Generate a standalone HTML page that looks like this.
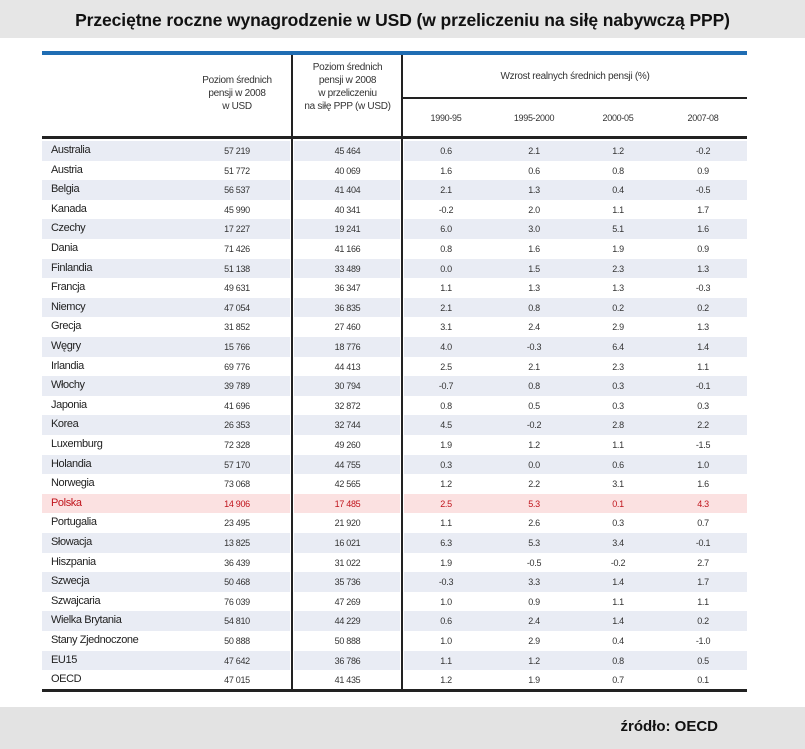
<!DOCTYPE html>
<html><head><meta charset="utf-8">
<style>
body{margin:0;width:805px;height:749px;background:#fff;position:relative;overflow:hidden;font-family:"Liberation Sans",Arial,sans-serif;}
.abs{position:absolute;}
.hd{font-size:10px;color:#333;text-align:center;line-height:13px;letter-spacing:-0.3px;}
.cell{position:absolute;font-size:9px;color:#333;text-align:center;letter-spacing:-0.3px;}
.name{position:absolute;font-size:11px;color:#222;left:51px;letter-spacing:-0.4px;}
</style></head><body>
<div class="abs" style="left:0;top:0;width:805px;height:38px;background:#e6e6e6;"></div>
<div class="abs" style="left:0;top:10px;width:805px;text-align:center;font-size:17.5px;font-weight:bold;color:#111;letter-spacing:-0.1px;">Przeciętne roczne wynagrodzenie w USD (w przeliczeniu na siłę nabywczą PPP)</div>
<div class="abs" style="left:42px;top:51px;width:705px;height:4px;background:#1f6db3;"></div>
<div id="rows"></div>
<div class="abs hd" style="left:187px;top:74px;width:100px;">Poziom średnich<br>pensji w 2008<br>w USD</div>
<div class="abs hd" style="left:295px;top:61px;width:105px;">Poziom średnich<br>pensji w 2008<br>w przeliczeniu<br>na siłę PPP (w USD)</div>
<div class="abs hd" style="left:403px;top:70px;width:344px;">Wzrost realnych średnich pensji (%)</div>
<div class="abs" style="left:402px;top:97px;width:345px;height:2px;background:#222;"></div>
<div class="abs" style="left:42px;top:136px;width:705px;height:3px;background:#222;"></div>
<div class="abs" style="left:42px;top:689px;width:705px;height:3px;background:#222;"></div>
<div class="abs" style="left:291px;top:55px;width:2px;height:635px;background:#222;"></div>
<div class="abs" style="left:401px;top:55px;width:2px;height:635px;background:#222;"></div>
<div class="abs" style="left:0;top:707px;width:805px;height:42px;background:#e3e3e3;"></div>
<div class="abs" style="right:87px;top:718px;font-size:15px;font-weight:bold;color:#111;">źródło: OECD</div>
<script>
const periods=["1990-95","1995-2000","2000-05","2007-08"];
const countries=["Australia","Austria","Belgia","Kanada","Czechy","Dania","Finlandia","Francja","Niemcy","Grecja","Węgry","Irlandia","Włochy","Japonia","Korea","Luxemburg","Holandia","Norwegia","Polska","Portugalia","Słowacja","Hiszpania","Szwecja","Szwajcaria","Wielka Brytania","Stany Zjednoczone","EU15","OECD"];
const usd=["57 219","51 772","56 537","45 990","17 227","71 426","51 138","49 631","47 054","31 852","15 766","69 776","39 789","41 696","26 353","72 328","57 170","73 068","14 906","23 495","13 825","36 439","50 468","76 039","54 810","50 888","47 642","47 015"];
const ppp=["45 464","40 069","41 404","40 341","19 241","41 166","33 489","36 347","36 835","27 460","18 776","44 413","30 794","32 872","32 744","49 260","44 755","42 565","17 485","21 920","16 021","31 022","35 736","47 269","44 229","50 888","36 786","41 435"];
const g1=["0.6","1.6","2.1","-0.2","6.0","0.8","0.0","1.1","2.1","3.1","4.0","2.5","-0.7","0.8","4.5","1.9","0.3","1.2","2.5","1.1","6.3","1.9","-0.3","1.0","0.6","1.0","1.1","1.2"];
const g2=["2.1","0.6","1.3","2.0","3.0","1.6","1.5","1.3","0.8","2.4","-0.3","2.1","0.8","0.5","-0.2","1.2","0.0","2.2","5.3","2.6","5.3","-0.5","3.3","0.9","2.4","2.9","1.2","1.9"];
const g3=["1.2","0.8","0.4","1.1","5.1","1.9","2.3","1.3","0.2","2.9","6.4","2.3","0.3","0.3","2.8","1.1","0.6","3.1","0.1","0.3","3.4","-0.2","1.4","1.1","1.4","0.4","0.8","0.7"];
const g4=["-0.2","0.9","-0.5","1.7","1.6","0.9","1.3","-0.3","0.2","1.3","1.4","1.1","-0.1","0.3","2.2","-1.5","1.0","1.6","4.3","0.7","-0.1","2.7","1.7","1.1","0.2","-1.0","0.5","0.1"];
const root=document.getElementById('rows');
const top0=141,rh=19.6;
const cols=[[187,100,usd],[295,105,ppp],[404,84,g1],[488,92,g2],[574,88,g3],[660,86,g4]];
const pc=[446,534,618,703];
periods.forEach((p,i)=>{
 const d=document.createElement('div');
 
 
 d.className='cell';d.textContent=p;d.style.left=(pc[i]-40)+'px';d.style.width='80px';d.style.top='113px';
 root.appendChild(d);
});
countries.forEach((c,i)=>{
 const y=top0+i*rh;
 const pol=c==="Polska";
 const bg=pol?'#fbe1e1':(i%2===0?'#e9ecf4':null);
 if(bg){
  [[42,248],[294,106],[404,343]].forEach(s=>{
   const b=document.createElement('div');
   
   
   b.className='abs';b.style.left=s[0]+'px';b.style.width=s[1]+'px';b.style.top=y+'px';b.style.height=rh+'px';b.style.background=bg;
   root.appendChild(b);
  });
 }
 const n=document.createElement('div');
 
 
 n.className='name';n.textContent=c;n.style.top=(y+3)+'px';if(pol)n.style.color='#c0141c';
 root.appendChild(n);
 cols.forEach(col=>{
  const d=document.createElement('div');
  
  
  d.className='cell';d.textContent=col[2][i];d.style.left=col[0]+'px';d.style.width=col[1]+'px';d.style.top=(y+5)+'px';
  if(pol)d.style.color='#c0141c';
  root.appendChild(d);
 });
});
</script>
</body></html>
